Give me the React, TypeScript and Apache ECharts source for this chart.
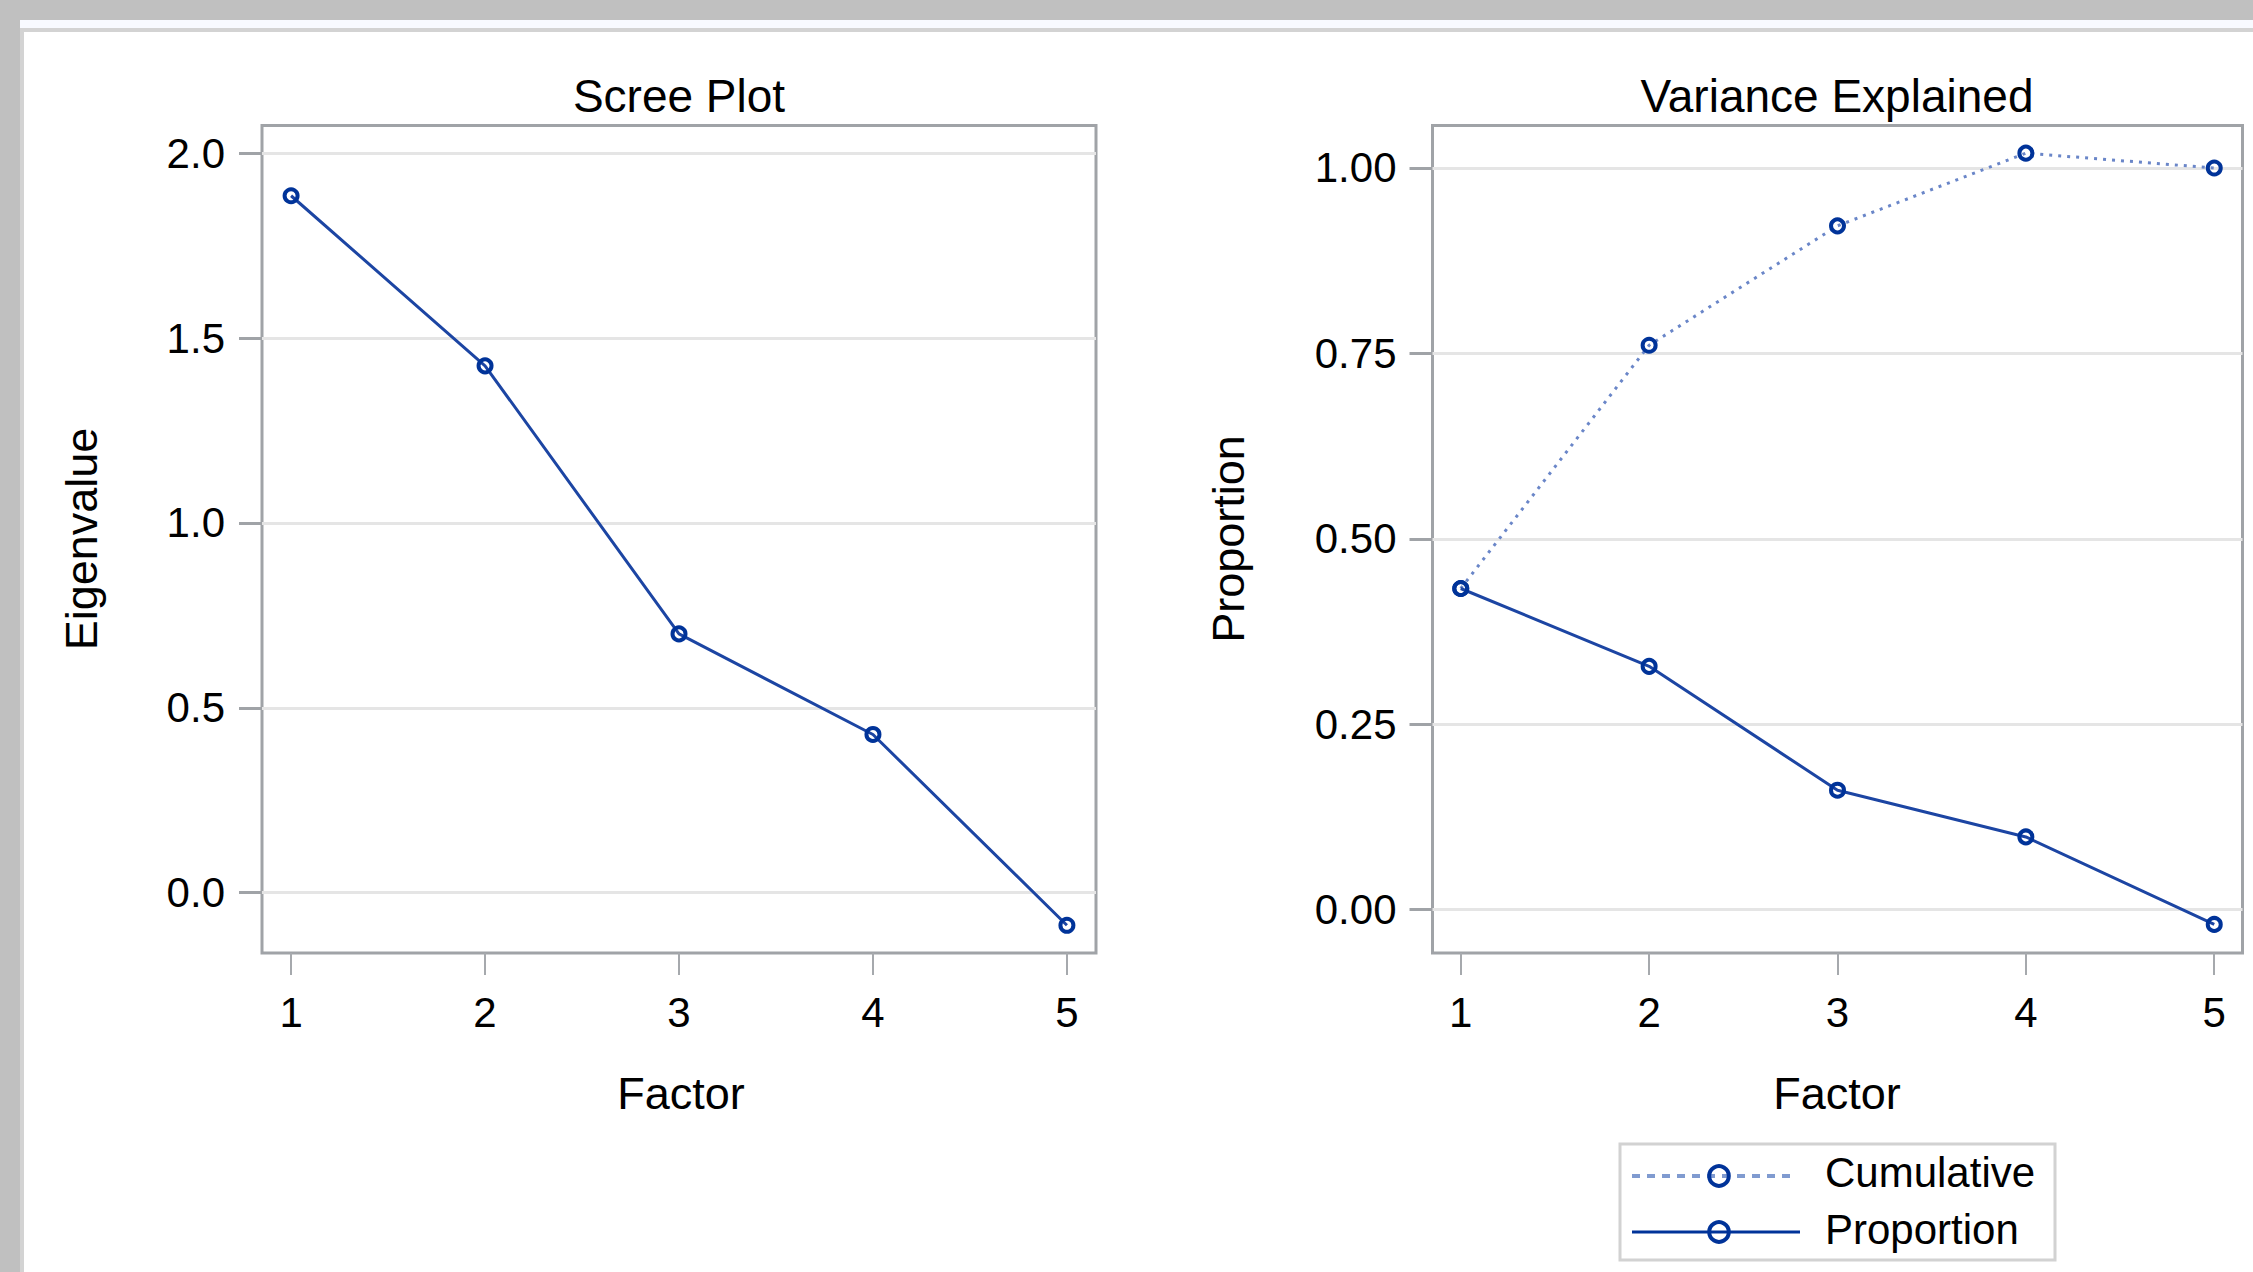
import React, { useEffect, useRef } from "react";
import * as echarts from "echarts";

const factors = [1, 2, 3, 4, 5];
const eigenvalues = [1.885, 1.425, 0.7, 0.428, -0.088];
const proportion = [0.433, 0.328, 0.161, 0.098, -0.02];
const cumulative = [0.433, 0.761, 0.922, 1.02, 1.0];
const xTicks = [1, 2, 3, 4, 5];
const eigenTicks = [0, 0.5, 1.0, 1.5, 2.0];
const propTicks = [0, 0.25, 0.5, 0.75, 1.0];
const titles = ["Scree Plot", "Variance Explained"];
const yNames = ["Eigenvalue", "Proportion"];
const xName = "Factor";
const seriesNames = ["Cumulative", "Proportion"];

const FONT = '"Liberation Sans", Arial, sans-serif';
const FRAME = "#a0a3a7";
const DARK = "#003399";
const LINE = "#1c45a3";
const DOT = "#6a86c8";
const GRIDLINE = "#e5e5e5";

function xAxisFor(gridIndex: number) {
  return {
    type: "value",
    gridIndex,
    min: 0.85,
    max: 5.15,
    axisLine: { show: false, onZero: false },
    axisTick: {
      show: true,
      customValues: xTicks,
      length: 22,
      lineStyle: { color: "#a6a9ad", width: 2 },
    },
    axisLabel: {
      customValues: xTicks,
      margin: 38,
      color: "#000",
      fontSize: 42,
      fontFamily: FONT,
    },
    splitLine: { show: false },
  };
}

function yAxisFor(gridIndex: number, min: number, max: number, ticks: number[], digits: number, margin: number) {
  return {
    type: "value",
    gridIndex,
    min,
    max,
    axisLine: { show: false, onZero: false },
    axisTick: {
      show: true,
      customValues: ticks,
      length: 23,
      lineStyle: { color: FRAME, width: 3 },
    },
    axisLabel: {
      customValues: ticks,
      margin,
      color: "#000",
      fontSize: 42,
      fontFamily: FONT,
      formatter: (v: number) => v.toFixed(digits),
    },
    splitLine: { show: false },
  };
}

function gridSeries(xi: number, vals: number[], ticks: number[]) {
  return {
    type: "line",
    xAxisIndex: xi,
    yAxisIndex: xi,
    data: factors.map((f, i) => [f, vals[i]]),
    showSymbol: false,
    symbol: "none",
    lineStyle: { opacity: 0 },
    silent: true,
    z: 1,
    markLine: {
      z: 1,
      silent: true,
      symbol: ["none", "none"],
      label: { show: false },
      emphasis: { disabled: true },
      lineStyle: { color: GRIDLINE, width: 3, type: "solid" },
      data: ticks.map((v) => ({ yAxis: v })),
    },
  };
}

function dataSeries(name: string, xi: number, vals: number[], dotted: boolean) {
  return {
    name,
    type: "line",
    xAxisIndex: xi,
    yAxisIndex: xi,
    z: 6,
    data: factors.map((f, i) => [f, vals[i]]),
    symbol: "circle",
    symbolSize: 13,
    lineStyle: dotted
      ? { color: DOT, width: 3, type: [3, 6] }
      : { color: LINE, width: 3, type: "solid" },
    itemStyle: { color: "rgba(255,255,255,0)", borderColor: DARK, borderWidth: 4 },
    emphasis: { disabled: true },
  };
}

function txt(text: string, x: number, y: number, size: number, align: string, rotation = 0) {
  return {
    type: "text",
    x,
    y,
    rotation,
    z: 10,
    style: {
      text,
      fontSize: size,
      fontFamily: FONT,
      fill: "#000",
      align,
      verticalAlign: "middle",
    },
  };
}

export default function App() {
  const ref = useRef<HTMLDivElement>(null);

  useEffect(() => {
    if (!ref.current) return;
    const chart = echarts.init(ref.current, null, { renderer: "svg" });
    const option = {
      animation: false,
      backgroundColor: "transparent",
      grid: [
        { left: 262, top: 125.5, width: 834, height: 827.5, show: true, borderColor: FRAME, borderWidth: 3, backgroundColor: "rgba(0,0,0,0)" },
        { left: 1432.5, top: 125.5, width: 810, height: 827.5, show: true, borderColor: FRAME, borderWidth: 3, backgroundColor: "rgba(0,0,0,0)" },
      ],
      xAxis: [xAxisFor(0), xAxisFor(1)],
      yAxis: [
        yAxisFor(0, -0.163, 2.075, eigenTicks, 1, 37),
        yAxisFor(1, -0.0585, 1.0573, propTicks, 2, 36),
      ],
      series: [
        gridSeries(0, eigenvalues, eigenTicks),
        gridSeries(1, proportion, propTicks),
        dataSeries("Eigenvalue", 0, eigenvalues, false),
        dataSeries(seriesNames[0], 1, cumulative, true),
        dataSeries(seriesNames[1], 1, proportion, false),
      ],
      graphic: [
        txt(titles[0], 679, 95.5, 46, "center"),
        txt(titles[1], 1837, 95.5, 46, "center"),
        txt(xName, 681, 1093.5, 45, "center"),
        txt(xName, 1837, 1093.5, 45, "center"),
        txt(yNames[0], 81, 539, 45, "center", Math.PI / 2),
        txt(yNames[1], 1228, 539, 45, "center", Math.PI / 2),
        {
          type: "rect",
          z: 5,
          shape: { x: 1620, y: 1144, width: 435, height: 116 },
          style: { fill: "#fff", stroke: "#d2d2d2", lineWidth: 3 },
        },
        {
          type: "line",
          z: 6,
          shape: { x1: 1632, y1: 1176, x2: 1797, y2: 1176 },
          style: { stroke: "#809bd0", lineWidth: 4, lineDash: [8, 7] },
        },
        {
          type: "line",
          z: 6,
          shape: { x1: 1632, y1: 1232, x2: 1800, y2: 1232 },
          style: { stroke: DARK, lineWidth: 3 },
        },
        {
          type: "circle",
          z: 7,
          shape: { cx: 1719, cy: 1176, r: 9.8 },
          style: { fill: "none", stroke: DARK, lineWidth: 4 },
        },
        {
          type: "circle",
          z: 7,
          shape: { cx: 1719, cy: 1232, r: 9.8 },
          style: { fill: "none", stroke: DARK, lineWidth: 4 },
        },
        txt(seriesNames[0], 1825, 1172.5, 42, "left"),
        txt(seriesNames[1], 1825, 1229.7, 42, "left"),
      ],
    };
    chart.setOption(option as any);
    return () => chart.dispose();
  }, []);

  return (
    <div style={{ position: "absolute", left: 0, top: 0, width: 2253, height: 1272, background: "#c0c0c0", overflow: "hidden" }}>
      <div style={{ position: "absolute", left: 20, top: 20, right: 0, bottom: 0, background: "#ffffff" }} />
      <div style={{ position: "absolute", left: 20, top: 20, right: 0, height: 8, background: "#f8faff" }} />
      <div style={{ position: "absolute", left: 20, top: 28, right: 0, height: 4, background: "#d3d3d3" }} />
      <div style={{ position: "absolute", left: 20, top: 28, width: 4, bottom: 0, background: "#d3d3d3" }} />
      <div ref={ref} style={{ position: "absolute", left: 0, top: 0, width: 2253, height: 1272 }} />
    </div>
  );
}
